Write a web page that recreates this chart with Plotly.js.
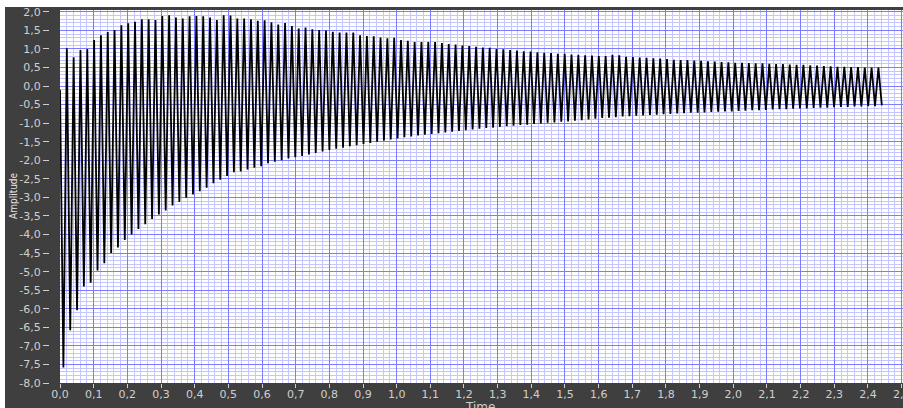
<!DOCTYPE html>
<html>
<head>
<meta charset="utf-8">
<script src="https://cdn.plot.ly/plotly-3.0.1.min.js"></script>
<style>
  html, body { margin: 0; padding: 0; background: #ffffff; overflow: hidden; }
  #chart { position: absolute; left: 5px; top: 7px; width: 898px; height: 401px; }
</style>
</head>
<body>
<div id="chart"></div>
<script>
// Waveform: t0, dt and sampled amplitude (start value, then alternating trough / peak)
const waveT0 = 0;
const waveDt = 0.010129;
const startValue = -0.1;

const troughValues = [
  -7.58, -6.58, -6.04, -5.40, -5.30, -4.97, -4.77, -4.50, -4.35, -4.15,
  -4.00, -3.85, -3.72, -3.58, -3.46, -3.35, -3.22, -3.12, -3.01, -2.92,
  -2.83, -2.74, -2.62, -2.52, -2.42, -2.32, -2.30, -2.25, -2.20, -2.16,
  -2.08, -2.04, -2.00, -1.95, -1.92, -1.88, -1.84, -1.80, -1.76, -1.72,
  -1.69, -1.66, -1.62, -1.59, -1.56, -1.53, -1.50, -1.47, -1.44, -1.41,
  -1.38, -1.36, -1.33, -1.31, -1.29, -1.27, -1.25, -1.23, -1.21, -1.19,
  -1.17, -1.15, -1.13, -1.12, -1.10, -1.08, -1.07, -1.05, -1.04, -1.02,
  -1.01, -0.99, -0.98, -0.96, -0.95, -0.93, -0.92, -0.90, -0.88, -0.86,
  -0.85, -0.84, -0.82, -0.81, -0.80, -0.79, -0.78, -0.77, -0.76, -0.75,
  -0.74, -0.73, -0.72, -0.72, -0.71, -0.70, -0.69, -0.68, -0.68, -0.67,
  -0.66, -0.65, -0.65, -0.64, -0.63, -0.62, -0.62, -0.61, -0.60, -0.60,
  -0.59, -0.58, -0.58, -0.57, -0.56, -0.56, -0.55, -0.55, -0.54, -0.54,
  -0.52
];

const peakValues = [
  1.02, 0.78, 0.97, 1.00, 1.24, 1.37, 1.46, 1.51, 1.64, 1.69,
  1.73, 1.80, 1.80, 1.78, 1.89, 1.91, 1.85, 1.82, 1.88, 1.89,
  1.88, 1.85, 1.78, 1.91, 1.90, 1.82, 1.82, 1.80, 1.76, 1.77,
  1.72, 1.66, 1.70, 1.62, 1.55, 1.58, 1.53, 1.51, 1.50, 1.46,
  1.44, 1.44, 1.44, 1.37, 1.35, 1.34, 1.31, 1.29, 1.30, 1.24,
  1.22, 1.19, 1.19, 1.19, 1.19, 1.16, 1.13, 1.12, 1.09, 1.08,
  1.06, 1.04, 1.03, 1.00, 0.99, 0.97, 0.96, 0.94, 0.93, 0.91,
  0.90, 0.89, 0.87, 0.87, 0.85, 0.84, 0.83, 0.82, 0.81, 0.81,
  0.84, 0.83, 0.79, 0.78, 0.77, 0.76, 0.75, 0.74, 0.73, 0.71,
  0.70, 0.70, 0.69, 0.68, 0.67, 0.66, 0.65, 0.64, 0.63, 0.63,
  0.62, 0.61, 0.61, 0.60, 0.59, 0.59, 0.58, 0.57, 0.57, 0.56,
  0.55, 0.54, 0.53, 0.52, 0.52, 0.51, 0.51, 0.50, 0.50, 0.50
];

const xTickValues = [0,0.1,0.2,0.3,0.4,0.5,0.6,0.7,0.8,0.9,1.0,1.1,1.2,1.3,1.4,1.5,1.6,1.7,1.8,1.9,2.0,2.1,2.2,2.3,2.4,2.5];
const xTickLabels = ['0,0','0,1','0,2','0,3','0,4','0,5','0,6','0,7','0,8','0,9','1,0','1,1','1,2','1,3','1,4','1,5','1,6','1,7','1,8','1,9','2,0','2,1','2,2','2,3','2,4','2,5'];
const yTickValues = [2,1.5,1,0.5,0,-0.5,-1,-1.5,-2,-2.5,-3,-3.5,-4,-4.5,-5,-5.5,-6,-6.5,-7,-7.5,-8];
const yTickLabels = ['2,0','1,5','1,0','0,5','0,0','-0,5','-1,0','-1,5','-2,0','-2,5','-3,0','-3,5','-4,0','-4,5','-5,0','-5,5','-6,0','-6,5','-7,0','-7,5','-8,0'];
const xTitle = 'Time';
const yTitle = 'Amplitude';

// assemble the waveform samples
const amplitude = [startValue];
for (let j = 0; j < troughValues.length; j++) {
  amplitude.push(troughValues[j]);
  if (j < peakValues.length) amplitude.push(peakValues[j]);
}
const time = amplitude.map((_, n) => waveT0 + n * waveDt);

const frame = '#3f3f3f';
const labelColor = '#cfcfcf';
const majorGrid = '#7b7bff';
const minorGrid = '#c6c6ff';

const trace = {
  x: time, y: amplitude, type: 'scatter', mode: 'lines',
  line: { color: '#000000', width: 1.8 },
  hoverinfo: 'skip', showlegend: false
};

// pixel geometry (div is offset 5px left, 7px top on the page)
const offX = 5, offY = 7;
const W = 898, H = 401;
const mL = 49 - offX, mT = 10 - offY, mB = 408 - 383, mR = 0;
const paperW = W - mL - mR, paperH = H - mT - mB;
const px2x = p => (p - offX - mL) / paperW;
const py2y = p => (H - mB - (p - offY)) / paperH;

const layout = {
  width: W, height: H,
  margin: { l: mL, r: mR, t: mT, b: mB, pad: 0 },
  paper_bgcolor: frame,
  plot_bgcolor: '#ffffff',
  showlegend: false,
  xaxis: {
    domain: [px2x(60), 1],
    range: [0, 2.504],
    tickvals: xTickValues, ticktext: xTickLabels,
    ticks: 'outside', ticklen: 4, tickcolor: labelColor, tickwidth: 1,
    tickfont: { family: 'DejaVu Sans', size: 11, color: labelColor },
    ticklabeloverflow: 'allow', ticklabelstandoff: -3,
    showgrid: true, gridcolor: majorGrid, gridwidth: 1,
    minor: { dtick: 0.02, tick0: 0, showgrid: true, gridcolor: minorGrid, gridwidth: 1, ticks: '' },
    zeroline: false, showline: false
  },
  yaxis: {
    range: [-8, 2.05],
    anchor: 'free', position: 0,
    tickvals: yTickValues, ticktext: yTickLabels,
    ticks: 'outside', ticklen: 6, tickcolor: labelColor, tickwidth: 1,
    tickfont: { family: 'DejaVu Sans', size: 11, color: labelColor },
    ticklabeloverflow: 'allow',
    showgrid: true, gridcolor: majorGrid, gridwidth: 1,
    minor: { dtick: 0.1, tick0: 0, showgrid: true, gridcolor: minorGrid, gridwidth: 1, ticks: '' },
    zeroline: false, showline: false
  },
  annotations: [
    { text: xTitle, xref: 'paper', yref: 'paper', x: px2x(480), y: py2y(407),
      xanchor: 'center', yanchor: 'middle', showarrow: false,
      font: { family: 'DejaVu Sans', size: 12, color: labelColor } },
    { text: yTitle, xref: 'paper', yref: 'paper', x: px2x(13), y: py2y(196),
      xanchor: 'center', yanchor: 'middle', showarrow: false, textangle: -90,
      font: { family: 'DejaVu Sans Condensed', size: 10, color: '#e6e6e6' } }
  ]
};

Plotly.newPlot('chart', [trace], layout, { displayModeBar: false, staticPlot: true });
</script>
</body>
</html>
